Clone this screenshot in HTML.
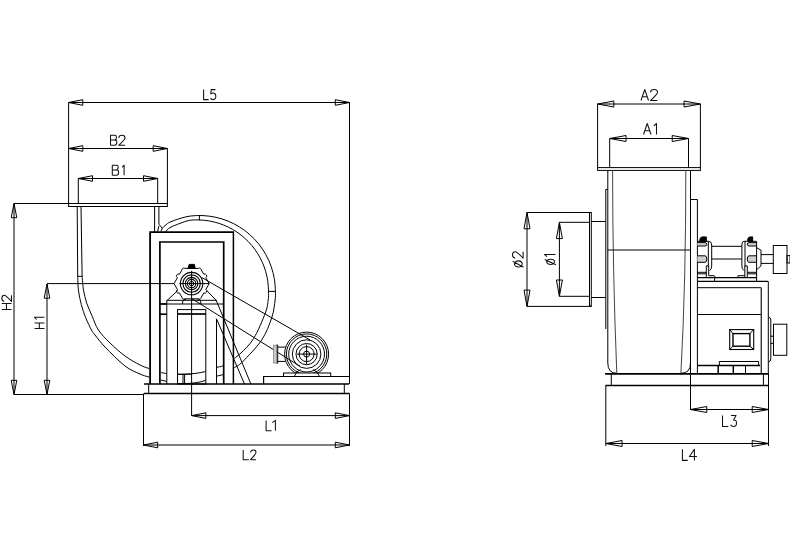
<!DOCTYPE html>
<html><head><meta charset="utf-8"><style>
html,body{margin:0;padding:0;background:#fff;}
svg{display:block;will-change:transform;}
.t{font-family:"Liberation Sans",sans-serif;font-size:16px;fill:#000;text-anchor:middle;stroke:#fff;stroke-width:0.5px;}
</style></head><body>
<svg width="790" height="550" viewBox="0 0 790 550" stroke-linecap="butt">
<rect width="790" height="550" fill="#fff"/>
<line x1="68.6" y1="102.5" x2="349.5" y2="102.5" stroke="#000" stroke-width="1" />
<path d="M68.60,102.50 L82.80,99.70 L82.80,105.30 Z" stroke="#000" stroke-width="1" fill="none" />
<path d="M349.50,102.50 L335.30,105.30 L335.30,99.70 Z" stroke="#000" stroke-width="1" fill="none" />
<line x1="68.6" y1="102.5" x2="68.6" y2="203.5" stroke="#000" stroke-width="1" />
<line x1="349.5" y1="102.5" x2="349.5" y2="384" stroke="#000" stroke-width="1" />
<line x1="349.5" y1="393.5" x2="349.5" y2="446" stroke="#000" stroke-width="1" />
<line x1="68.6" y1="148.5" x2="167.4" y2="148.5" stroke="#000" stroke-width="1" />
<path d="M68.60,148.50 L82.80,145.70 L82.80,151.30 Z" stroke="#000" stroke-width="1" fill="none" />
<path d="M167.40,148.50 L153.20,151.30 L153.20,145.70 Z" stroke="#000" stroke-width="1" fill="none" />
<line x1="167.4" y1="148.5" x2="167.4" y2="203" stroke="#000" stroke-width="1" />
<line x1="78.3" y1="178.5" x2="157.7" y2="178.5" stroke="#000" stroke-width="1" />
<path d="M78.30,178.50 L92.50,175.70 L92.50,181.30 Z" stroke="#000" stroke-width="1" fill="none" />
<path d="M157.70,178.50 L143.50,181.30 L143.50,175.70 Z" stroke="#000" stroke-width="1" fill="none" />
<line x1="78.3" y1="178.5" x2="78.3" y2="203.5" stroke="#000" stroke-width="1" />
<line x1="157.7" y1="178.5" x2="157.7" y2="203" stroke="#000" stroke-width="1" />
<rect x="68.6" y="203.5" width="98.8" height="3.0" stroke="#000" stroke-width="1" fill="none"/>
<line x1="77.2" y1="206" x2="77.7" y2="276" stroke="#000" stroke-width="1" />
<line x1="81" y1="206" x2="82.1" y2="276" stroke="#000" stroke-width="1" />
<line x1="154.6" y1="206" x2="154.6" y2="232" stroke="#000" stroke-width="1" />
<line x1="158.9" y1="206" x2="158.9" y2="224.2" stroke="#000" stroke-width="1" />
<path d="M158.9,224.2 L162.2,228.2 L160.9,231.5 M158.9,226 L157.6,231.5" stroke="#000" stroke-width="1" fill="none" />
<line x1="77.7" y1="276.3" x2="82.1" y2="276.3" stroke="#000" stroke-width="1" />
<line x1="14" y1="203.5" x2="69" y2="203.5" stroke="#000" stroke-width="1" />
<line x1="14" y1="203.5" x2="14" y2="394.5" stroke="#000" stroke-width="1" />
<path d="M14.00,203.50 L16.80,217.70 L11.20,217.70 Z" stroke="#000" stroke-width="1" fill="none" />
<path d="M14.00,394.50 L11.20,380.30 L16.80,380.30 Z" stroke="#000" stroke-width="1" fill="none" />
<line x1="14" y1="394.5" x2="144" y2="394.5" stroke="#000" stroke-width="1" />
<line x1="47" y1="283.6" x2="174" y2="283.6" stroke="#000" stroke-width="1" />
<line x1="179.4" y1="283.6" x2="209.2" y2="283.6" stroke="#000" stroke-width="1" />
<line x1="47" y1="284" x2="47" y2="394.5" stroke="#000" stroke-width="1" />
<path d="M47.00,284.00 L49.80,298.20 L44.20,298.20 Z" stroke="#000" stroke-width="1" fill="none" />
<path d="M47.00,394.50 L44.20,380.30 L49.80,380.30 Z" stroke="#000" stroke-width="1" fill="none" />
<defs><clipPath id="sc"><rect x="0" y="0" width="149.2" height="550"/><rect x="0" y="0" width="790" height="231.5"/><rect x="160.8" y="0" width="5.6" height="550"/><rect x="177.8" y="0" width="27.7" height="550"/><rect x="216.8" y="0" width="6.3" height="550"/><rect x="234.3" y="0" width="556" height="550"/></clipPath></defs>
<g clip-path="url(#sc)">
<path d="M162.20,228.20 C162.83,227.63 164.70,225.82 166.00,224.80 C167.30,223.78 167.67,223.15 170.00,222.10 C172.33,221.05 176.64,219.51 180.00,218.50 C183.36,217.49 186.31,216.55 190.14,216.07 C193.97,215.58 198.72,215.38 202.98,215.58 C207.24,215.79 211.55,216.36 215.72,217.27 C219.89,218.19 224.04,219.48 227.99,221.08 C231.95,222.69 235.82,224.66 239.45,226.91 C243.08,229.16 246.56,231.75 249.76,234.58 C252.96,237.41 255.96,240.55 258.63,243.88 C261.30,247.20 263.73,250.81 265.81,254.54 C267.88,258.27 269.67,262.23 271.08,266.26 C272.50,270.28 273.59,274.49 274.31,278.69 C275.03,282.90 275.27,287.95 275.40,291.50 C275.53,295.05 275.70,295.67 275.10,300.00 C274.50,304.33 274.03,310.83 271.80,317.50 C269.57,324.17 266.58,332.62 261.70,340.00 C256.82,347.38 247.15,357.13 242.50,361.80 C237.85,366.47 236.97,365.92 233.80,368.00 C230.63,370.08 226.40,372.92 223.50,374.30 C220.60,375.68 219.37,375.28 216.40,376.30 C213.43,377.32 209.10,379.33 205.70,380.40 C202.30,381.47 199.45,382.17 196.00,382.70 C192.55,383.23 188.50,383.52 185.00,383.60 C181.50,383.68 178.05,383.57 175.00,383.20 C171.95,382.83 171.03,382.43 166.70,381.40 C162.37,380.37 153.45,378.23 149.00,377.00 C144.55,375.77 144.00,375.83 140.00,374.00 C136.00,372.17 130.83,370.50 125.00,366.00 C119.17,361.50 110.00,352.17 105.00,347.00 C100.00,341.83 97.25,337.83 95.00,335.00 C92.75,332.17 93.05,332.88 91.50,330.00 C89.95,327.12 87.40,321.93 85.70,317.70 C84.00,313.47 82.52,309.22 81.30,304.60 C80.08,299.98 79.00,294.77 78.40,290.00 C77.80,285.23 77.82,278.33 77.70,276.00" stroke="#000" stroke-width="1" fill="none" />
<path d="M165.20,232.00 C166.00,231.27 167.53,229.03 170.00,227.60 C172.47,226.17 176.75,224.62 180.00,223.40 C183.25,222.18 186.28,220.87 189.53,220.29 C192.78,219.72 196.18,219.83 199.50,219.94 C202.81,220.06 206.15,220.41 209.42,220.99 C212.68,221.56 215.94,222.37 219.09,223.40 C222.25,224.42 225.36,225.68 228.34,227.14 C231.32,228.59 234.23,230.27 236.98,232.12 C239.73,233.98 242.38,236.05 244.84,238.27 C247.31,240.48 249.64,242.90 251.77,245.44 C253.90,247.98 255.88,250.70 257.64,253.51 C259.39,256.32 260.97,259.29 262.32,262.32 C263.67,265.35 264.82,268.50 265.73,271.69 C266.64,274.88 267.34,278.16 267.80,281.45 C268.27,284.73 268.43,288.31 268.50,291.40 C268.57,294.49 268.73,296.38 268.20,300.00 C267.67,303.62 267.73,306.68 265.30,313.10 C262.87,319.52 257.88,331.65 253.60,338.50 C249.32,345.35 244.62,349.72 239.60,354.20 C234.58,358.68 227.37,363.20 223.50,365.40 C219.63,367.60 219.37,366.38 216.40,367.40 C213.43,368.42 209.10,370.52 205.70,371.50 C202.30,372.48 199.28,372.85 196.00,373.30 C192.72,373.75 189.08,374.03 186.00,374.20 C182.92,374.37 180.72,374.42 177.50,374.30 C174.28,374.18 169.65,373.85 166.70,373.50 C163.75,373.15 162.75,373.03 159.80,372.20 C156.85,371.37 152.30,369.70 149.00,368.50 C145.70,367.30 144.00,367.08 140.00,365.00 C136.00,362.92 130.00,359.67 125.00,356.00 C120.00,352.33 114.43,347.33 110.00,343.00 C105.57,338.67 101.37,334.47 98.40,330.00 C95.43,325.53 94.15,320.68 92.20,316.20 C90.25,311.72 88.15,307.47 86.70,303.10 C85.25,298.73 84.27,294.52 83.50,290.00 C82.73,285.48 82.33,278.33 82.10,276.00" stroke="#000" stroke-width="1" fill="none" />
</g>
<line x1="199.4" y1="215.5" x2="199.4" y2="220.4" stroke="#000" stroke-width="1" />
<line x1="268.4" y1="291.4" x2="275.4" y2="291.4" stroke="#000" stroke-width="1" />
<path d="M150.1,384 V232.2 H234" stroke="#000" stroke-width="1.8" fill="none" />
<line x1="233.4" y1="232.5" x2="233.4" y2="384" stroke="#000" stroke-width="1.5" />
<path d="M159.9,384 V242 H223.7 V384" stroke="#000" stroke-width="1.7" fill="none" />
<line x1="144" y1="384" x2="349" y2="384" stroke="#000" stroke-width="1.3" />
<line x1="144" y1="393.5" x2="349.5" y2="393.5" stroke="#000" stroke-width="1.4" />
<line x1="148.7" y1="384" x2="148.7" y2="393.5" stroke="#000" stroke-width="1" />
<line x1="344.3" y1="384" x2="344.3" y2="393.5" stroke="#000" stroke-width="1" />
<line x1="166.8" y1="300.3" x2="166.8" y2="384" stroke="#000" stroke-width="1" />
<line x1="216.5" y1="318.8" x2="216.5" y2="384" stroke="#000" stroke-width="1" />
<line x1="166.8" y1="300.3" x2="216.8" y2="300.3" stroke="#000" stroke-width="1" />
<line x1="159.9" y1="304" x2="223.7" y2="304" stroke="#000" stroke-width="1" />
<line x1="159.9" y1="304" x2="166.8" y2="304" stroke="#000" stroke-width="1.6" />
<line x1="159.9" y1="314.2" x2="166.8" y2="314.2" stroke="#000" stroke-width="1.7" />
<rect x="177.5" y="309.6" width="28.3" height="74.4" stroke="#000" stroke-width="1" fill="none"/>
<line x1="177.5" y1="314" x2="205.8" y2="314" stroke="#000" stroke-width="1.7" />
<path d="M177.5,374.2 H191.2" stroke="#000" stroke-width="1" fill="none" />
<line x1="183" y1="374.2" x2="183" y2="384" stroke="#000" stroke-width="1" />
<line x1="184.6" y1="374.2" x2="184.6" y2="384" stroke="#000" stroke-width="1" />
<path d="M182.6,304 V302 Q182.6,299.5 186,299 M200.8,304 V302 Q200.8,299.5 197.5,299" stroke="#000" stroke-width="1" fill="none" />
<line x1="167.2" y1="300.3" x2="178" y2="290.3" stroke="#000" stroke-width="1" />
<line x1="206.5" y1="290.3" x2="216.2" y2="300.3" stroke="#000" stroke-width="1" />
<line x1="216.2" y1="300.3" x2="250.9" y2="384" stroke="#000" stroke-width="1" />
<line x1="216.5" y1="318.8" x2="244.5" y2="384" stroke="#000" stroke-width="1" />
<line x1="191.6" y1="271" x2="191.6" y2="416" stroke="#000" stroke-width="1" />
<line x1="202" y1="277.664" x2="310" y2="339.872" stroke="#000" stroke-width="1" />
<line x1="191.6" y1="298.5" x2="300" y2="366.25" stroke="#000" stroke-width="1" />
<circle cx="191.6" cy="283.6" r="11.2" stroke="#000" stroke-width="1.1" fill="none"/>
<circle cx="191.6" cy="283.6" r="8.7" stroke="#000" stroke-width="1.1" fill="none"/>
<circle cx="191.6" cy="283.6" r="6.2" stroke="#000" stroke-width="1.1" fill="none"/>
<circle cx="191.6" cy="283.6" r="4.2" stroke="#000" stroke-width="1.1" fill="none"/>
<circle cx="191.6" cy="283.6" r="2.2" stroke="#000" stroke-width="1.0" fill="none"/>
<path d="M174.00,283.60 L177.40,277.71 A2.0,2.0 0 0 1 179.40,274.25 L181.80,270.09 A2.0,2.0 0 0 1 184.80,268.36 L198.40,268.36 A2.0,2.0 0 0 1 201.40,270.09 L203.80,274.25 A2.0,2.0 0 0 1 205.80,277.71 L209.20,283.60 L205.80,289.49 A2.0,2.0 0 0 1 203.80,292.95 L201.40,297.11 A2.0,2.0 0 0 1 198.40,298.84 L184.80,298.84 A2.0,2.0 0 0 1 181.80,297.11 L179.40,292.95 A2.0,2.0 0 0 1 177.40,289.49 L174.00,283.60 Z" stroke="#000" stroke-width="1" fill="none" />
<path d="M188.0,268.40000000000003 L189.2,264.40000000000003 H194.4 L195.2,268.40000000000003 Z" stroke="#000" stroke-width="1" fill="#000" />
<circle cx="306.6" cy="354.1" r="22" stroke="#000" stroke-width="1" fill="none"/>
<circle cx="306.6" cy="354.1" r="20.2" stroke="#000" stroke-width="1" fill="none"/>
<circle cx="306.6" cy="354.1" r="17.9" stroke="#000" stroke-width="1" fill="none"/>
<circle cx="306.6" cy="354.1" r="14.3" stroke="#000" stroke-width="1" fill="none"/>
<circle cx="306.6" cy="354.1" r="10.6" stroke="#000" stroke-width="1" fill="none"/>
<circle cx="306.6" cy="354.1" r="7.5" stroke="#000" stroke-width="1" fill="none"/>
<circle cx="306.6" cy="354.1" r="3" stroke="#000" stroke-width="1" fill="none"/>
<line x1="297" y1="354.1" x2="317" y2="354.1" stroke="#000" stroke-width="1" />
<line x1="306.6" y1="344.5" x2="306.6" y2="364" stroke="#000" stroke-width="1" />
<path d="M276.4,345 H277.7 V363.2 H276.4" stroke="#000" stroke-width="1" fill="none" />
<rect x="273.4" y="345.2" width="3" height="17.8" stroke="#888" stroke-width="0.8" fill="#c8c8c8"/>
<path d="M277.7,347.1 H285.5 M277.7,361.4 H285.5" stroke="#000" stroke-width="1" fill="none" />
<path d="M263.6,384 V376.5 H349.5" stroke="#000" stroke-width="1.2" fill="none" />
<rect x="283.5" y="373" width="47.2" height="3.5" stroke="#000" stroke-width="1" fill="#fff"/>
<path d="M294.2,376.5 Q296,371.5 300.5,369.5 M319.6,376.5 Q317.8,371.5 313,369.5" stroke="#000" stroke-width="1" fill="none" />
<line x1="143.5" y1="393.5" x2="143.5" y2="446" stroke="#000" stroke-width="1" />
<line x1="191.7" y1="415.6" x2="349.5" y2="415.6" stroke="#000" stroke-width="1" />
<path d="M191.70,415.60 L205.90,412.80 L205.90,418.40 Z" stroke="#000" stroke-width="1" fill="none" />
<path d="M349.50,415.60 L335.30,418.40 L335.30,412.80 Z" stroke="#000" stroke-width="1" fill="none" />
<line x1="143.5" y1="445" x2="349.5" y2="445" stroke="#000" stroke-width="1" />
<path d="M143.50,445.00 L157.70,442.20 L157.70,447.80 Z" stroke="#000" stroke-width="1" fill="none" />
<path d="M349.50,445.00 L335.30,447.80 L335.30,442.20 Z" stroke="#000" stroke-width="1" fill="none" />
<line x1="597.6" y1="104" x2="700.4" y2="104" stroke="#000" stroke-width="1" />
<path d="M597.60,104.00 L613.90,101.00 L613.90,107.00 Z" stroke="#000" stroke-width="1" fill="none" />
<path d="M700.40,104.00 L684.10,107.00 L684.10,101.00 Z" stroke="#000" stroke-width="1" fill="none" />
<line x1="597.6" y1="104" x2="597.6" y2="167.6" stroke="#000" stroke-width="1" />
<line x1="700.4" y1="104" x2="700.4" y2="167.6" stroke="#000" stroke-width="1" />
<line x1="609.7" y1="138.5" x2="688.5" y2="138.5" stroke="#000" stroke-width="1" />
<path d="M609.70,138.50 L626.00,135.50 L626.00,141.50 Z" stroke="#000" stroke-width="1" fill="none" />
<path d="M688.50,138.50 L672.20,141.50 L672.20,135.50 Z" stroke="#000" stroke-width="1" fill="none" />
<line x1="609.7" y1="138.5" x2="609.7" y2="167.6" stroke="#000" stroke-width="1" />
<line x1="688.5" y1="138.5" x2="688.5" y2="167.6" stroke="#000" stroke-width="1" />
<rect x="597.6" y="167.6" width="102.8" height="2.8" stroke="#000" stroke-width="1" fill="none"/>
<path d="M607.8,170.5 V363 Q607.8,373.3 617,373.3 M681,373.3 Q690.5,373.3 690.5,363" stroke="#000" stroke-width="1" fill="none" />
<line x1="690.5" y1="170.5" x2="690.5" y2="409.5" stroke="#000" stroke-width="1" />
<path d="M612.6,170.5 Q612.6,270 616.8,373.3 M685.8,170.5 Q686,280 680.9,373.3" stroke="#444" stroke-width="1" fill="none" />
<line x1="605.8" y1="189.4" x2="605.8" y2="329" stroke="#000" stroke-width="1" />
<line x1="605.8" y1="189.4" x2="607.8" y2="189.4" stroke="#000" stroke-width="1" />
<line x1="607.6" y1="250" x2="690.5" y2="250" stroke="#000" stroke-width="1" />
<path d="M690.5,199.5 H697.4 V374" stroke="#000" stroke-width="1" fill="none" />
<path d="M527,212.5 H589.5 M527,306.4 H589.5" stroke="#000" stroke-width="1" fill="none" />
<line x1="527" y1="212.5" x2="527" y2="306.4" stroke="#000" stroke-width="1" />
<path d="M527.00,212.50 L530.00,228.80 L524.00,228.80 Z" stroke="#000" stroke-width="1" fill="none" />
<path d="M527.00,306.40 L524.00,290.10 L530.00,290.10 Z" stroke="#000" stroke-width="1" fill="none" />
<rect x="589.5" y="212.5" width="1.8" height="93.9" stroke="#000" stroke-width="1" fill="none"/>
<path d="M559.4,222.3 H589.5 M559.4,296.3 H589.5 M591.3,221.5 H605.8 M591.3,297.5 H605.8" stroke="#000" stroke-width="1" fill="none" />
<line x1="559.4" y1="222.3" x2="559.4" y2="296.3" stroke="#000" stroke-width="1" />
<path d="M559.40,222.30 L562.40,238.60 L556.40,238.60 Z" stroke="#000" stroke-width="1" fill="none" />
<path d="M559.40,296.30 L556.40,280.00 L562.40,280.00 Z" stroke="#000" stroke-width="1" fill="none" />
<path d="M711.7,246.3 H741.9 M711.7,259 H741.9" stroke="#000" stroke-width="1" fill="none" />
<path d="M697.4,241.3 H708.5 Q711.7,241.3 711.7,245 V266 Q711.7,269 709.7,270.5" stroke="#000" stroke-width="1" fill="none" />
<line x1="708.3" y1="241.3" x2="708.3" y2="266.4" stroke="#000" stroke-width="1" />
<path d="M699.9,241.3 V239 Q700.5,236.9 702.5,236.9 H706.3 V241.3 Z" stroke="#000" stroke-width="1" fill="#000" />
<path d="M697.4,242.6 H705 Q706.8,242.6 706.8,244.3 Q706.8,246 705,246 H697.4" stroke="#000" stroke-width="1" fill="#d0d0d0" />
<path d="M697.4,255.8 H705 Q706.8,255.8 706.8,259 Q706.8,262.3 705,262.3 H697.4" stroke="#000" stroke-width="1" fill="#d0d0d0" />
<path d="M706.3,277.7 V265.9 H708.7 V275.7 H714 Q715.1,275.7 715.1,277.7" stroke="#000" stroke-width="1" fill="none" />
<path d="M697.4,272.3 H706.3 M697.4,273.8 H706.3" stroke="#000" stroke-width="1" fill="none" />
<line x1="714.6" y1="277.7" x2="714.6" y2="281.5" stroke="#000" stroke-width="1" />
<path d="M756.6,241.3 H744 Q741.9,241.3 741.9,245 V266 Q741.9,269 743.8,270.5" stroke="#000" stroke-width="1" fill="none" />
<line x1="745" y1="241.3" x2="745" y2="266.4" stroke="#000" stroke-width="1" />
<path d="M747.8,241.3 V239 Q748.3,236.9 750.3,236.9 H752.7 V241.3 Z" stroke="#000" stroke-width="1" fill="#000" />
<path d="M756.6,242.6 H749 Q747.3,242.6 747.3,244.3 Q747.3,246 749,246 H756.6" stroke="#000" stroke-width="1" fill="#d0d0d0" />
<path d="M756.6,255.8 H749 Q747.3,255.8 747.3,259 Q747.3,262.3 749,262.3 H756.6" stroke="#000" stroke-width="1" fill="#d0d0d0" />
<path d="M744.8,277.7 V265.9 H747.3 V277.7" stroke="#000" stroke-width="1" fill="none" />
<path d="M747.3,272.3 H756.6 M747.3,273.8 H756.6" stroke="#000" stroke-width="1" fill="none" />
<path d="M756.6,241.3 V281.5" stroke="#000" stroke-width="1" fill="none" />
<path d="M738,277.7 V275.7 H744.8" stroke="#000" stroke-width="1" fill="none" />
<line x1="697.4" y1="277.7" x2="756.6" y2="277.7" stroke="#000" stroke-width="1.2" />
<path d="M756.6,247.7 L761,250.2 V265.9 L756.6,269.8" stroke="#000" stroke-width="1" fill="none" />
<path d="M761,254.6 H773.3 M761,263.4 H773.3" stroke="#000" stroke-width="1" fill="none" />
<rect x="773.3" y="245.5" width="13.7" height="28" stroke="#000" stroke-width="1" fill="none"/>
<rect x="787" y="255.6" width="3" height="7.4" stroke="#000" stroke-width="1" fill="none"/>
<line x1="697.4" y1="281.3" x2="768.1" y2="281.3" stroke="#000" stroke-width="1.3" />
<path d="M768.3,281.3 V374 M697.3,287.7 H761.3 M697.3,314.5 H761.3" stroke="#000" stroke-width="1" fill="none" />
<line x1="761.3" y1="287.7" x2="761.3" y2="374" stroke="#333" stroke-width="1.4" />
<rect x="729.7" y="329.6" width="24" height="19.9" stroke="#000" stroke-width="1.1" fill="none"/>
<rect x="733" y="333.6" width="16.9" height="12.6" stroke="#000" stroke-width="1.4" fill="none"/>
<path d="M729.7,329.6 L733,333.6 M753.7,329.6 L749.9,333.6 M729.7,349.5 L733,346.2 M753.7,349.5 L749.9,346.2" stroke="#000" stroke-width="1" fill="none" />
<path d="M719.3,365 V361.5 H758.6 V365" stroke="#000" stroke-width="1" fill="none" />
<line x1="697.4" y1="365.6" x2="760" y2="365.6" stroke="#000" stroke-width="1.5" />
<line x1="718.2" y1="365.6" x2="718.2" y2="373.8" stroke="#000" stroke-width="1.5" />
<line x1="733.3" y1="365.6" x2="733.3" y2="373.8" stroke="#000" stroke-width="1.5" />
<line x1="745.5" y1="365.6" x2="745.5" y2="373.8" stroke="#000" stroke-width="1" />
<path d="M768.6,317.1 Q770.8,317.5 770.8,320 V359 Q770.8,361.5 768.6,361.8 M770.8,336.2 H773.5 M770.8,343.3 H773.5" stroke="#000" stroke-width="1" fill="none" />
<rect x="773.5" y="324.2" width="13.3" height="31.1" stroke="#000" stroke-width="1" fill="none"/>
<line x1="605.1" y1="373.8" x2="768.5" y2="373.8" stroke="#000" stroke-width="1.8" />
<line x1="605.5" y1="385.5" x2="768.5" y2="385.5" stroke="#000" stroke-width="1.3" />
<line x1="611.3" y1="373.8" x2="611.3" y2="385.5" stroke="#000" stroke-width="1" />
<line x1="763.4" y1="373.8" x2="763.4" y2="385.5" stroke="#000" stroke-width="1" />
<line x1="605.8" y1="385.5" x2="605.8" y2="446" stroke="#000" stroke-width="1" />
<line x1="768.5" y1="373.8" x2="768.5" y2="446" stroke="#000" stroke-width="1" />
<line x1="690.5" y1="409.5" x2="768.5" y2="409.5" stroke="#000" stroke-width="1" />
<path d="M690.50,409.50 L706.80,406.50 L706.80,412.50 Z" stroke="#000" stroke-width="1" fill="none" />
<path d="M768.50,409.50 L752.20,412.50 L752.20,406.50 Z" stroke="#000" stroke-width="1" fill="none" />
<line x1="605.8" y1="443.5" x2="768.5" y2="443.5" stroke="#000" stroke-width="1" />
<path d="M605.80,443.50 L622.10,440.50 L622.10,446.50 Z" stroke="#000" stroke-width="1" fill="none" />
<path d="M768.50,443.50 L752.20,446.50 L752.20,440.50 Z" stroke="#000" stroke-width="1" fill="none" />
<path d="M0,0 V1 H0.500" transform="translate(203.6 99.6) rotate(0) translate(0 -10) scale(10)" vector-effect="non-scaling-stroke" stroke="#111" stroke-width="1.05" fill="none" stroke-linejoin="round"/>
<path d="M0.484,0 H0.06 L0.02,0.42 C0.12,0.36 0.2,0.34 0.260,0.34 C0.416,0.34 0.520,0.48 0.520,0.67 C0.520,0.88 0.416,1 0.260,1 C0.14,1 0.04,0.93 0,0.84" transform="translate(210.6 99.6) rotate(0) translate(0 -10) scale(10)" vector-effect="non-scaling-stroke" stroke="#111" stroke-width="1.05" fill="none" stroke-linejoin="round"/>
<path d="M0,1 V0 H0.391 C0.586,0 0.586,0.06 0.586,0.24 C0.586,0.4 0.504,0.47 0.391,0.47 H0 M0.391,0.47 C0.630,0.47 0.630,0.56 0.630,0.73 C0.630,0.92 0.504,1 0.391,1 H0" transform="translate(110.5 145.3) rotate(0) translate(0 -10) scale(10)" vector-effect="non-scaling-stroke" stroke="#111" stroke-width="1.05" fill="none" stroke-linejoin="round"/>
<path d="M0,0.26 C0.02,0.08 0.14,0 0.315,0 C0.586,0 0.630,0.1 0.630,0.27 C0.630,0.42 0.504,0.52 0,1 H0.630" transform="translate(118.7 145.3) rotate(0) translate(0 -10) scale(10)" vector-effect="non-scaling-stroke" stroke="#111" stroke-width="1.05" fill="none" stroke-linejoin="round"/>
<path d="M0,1 V0 H0.391 C0.586,0 0.586,0.06 0.586,0.24 C0.586,0.4 0.504,0.47 0.391,0.47 H0 M0.391,0.47 C0.630,0.47 0.630,0.56 0.630,0.73 C0.630,0.92 0.504,1 0.391,1 H0" transform="translate(112.3 175.2) rotate(0) translate(0 -10) scale(10)" vector-effect="non-scaling-stroke" stroke="#111" stroke-width="1.05" fill="none" stroke-linejoin="round"/>
<path d="M0,0.22 L0.180,0 V1" transform="translate(122.3 175.2) rotate(0) translate(0 -10) scale(10)" vector-effect="non-scaling-stroke" stroke="#111" stroke-width="1.05" fill="none" stroke-linejoin="round"/>
<path d="M0,1 L0.341,0 L0.682,1 M0.123,0.66 H0.559" transform="translate(641 100.5) rotate(0) translate(0 -11) scale(11)" vector-effect="non-scaling-stroke" stroke="#111" stroke-width="1.05" fill="none" stroke-linejoin="round"/>
<path d="M0,0.26 C0.02,0.08 0.14,0 0.318,0 C0.592,0 0.636,0.1 0.636,0.27 C0.636,0.42 0.509,0.52 0,1 H0.636" transform="translate(650.5 100.5) rotate(0) translate(0 -11) scale(11)" vector-effect="non-scaling-stroke" stroke="#111" stroke-width="1.05" fill="none" stroke-linejoin="round"/>
<path d="M0,1 L0.341,0 L0.682,1 M0.123,0.66 H0.559" transform="translate(643.5 134.5) rotate(0) translate(0 -11) scale(11)" vector-effect="non-scaling-stroke" stroke="#111" stroke-width="1.05" fill="none" stroke-linejoin="round"/>
<path d="M0,0.22 L0.245,0 V1" transform="translate(653.8 134.5) rotate(0) translate(0 -11) scale(11)" vector-effect="non-scaling-stroke" stroke="#111" stroke-width="1.05" fill="none" stroke-linejoin="round"/>
<path d="M0,0 V1 H0.534" transform="translate(266.1 430.7) rotate(0) translate(0 -10.3) scale(10.3)" vector-effect="non-scaling-stroke" stroke="#111" stroke-width="1.05" fill="none" stroke-linejoin="round"/>
<path d="M0,0.22 L0.301,0 V1" transform="translate(272.3 430.7) rotate(0) translate(0 -10.3) scale(10.3)" vector-effect="non-scaling-stroke" stroke="#111" stroke-width="1.05" fill="none" stroke-linejoin="round"/>
<path d="M0,0 V1 H0.588" transform="translate(243.2 459.7) rotate(0) translate(0 -9.7) scale(9.7)" vector-effect="non-scaling-stroke" stroke="#111" stroke-width="1.05" fill="none" stroke-linejoin="round"/>
<path d="M0,0.26 C0.02,0.08 0.14,0 0.278,0 C0.518,0 0.557,0.1 0.557,0.27 C0.557,0.42 0.445,0.52 0,1 H0.557" transform="translate(250.6 459.7) rotate(0) translate(0 -9.7) scale(9.7)" vector-effect="non-scaling-stroke" stroke="#111" stroke-width="1.05" fill="none" stroke-linejoin="round"/>
<path d="M0,0 V1 H0.536" transform="translate(722.5 426.5) rotate(0) translate(0 -11) scale(11)" vector-effect="non-scaling-stroke" stroke="#111" stroke-width="1.05" fill="none" stroke-linejoin="round"/>
<path d="M0.04,0 H0.507 L0.273,0.4 C0.507,0.4 0.545,0.52 0.545,0.7 C0.545,0.9 0.436,1 0.273,1 C0.16,1 0.05,0.94 0,0.84" transform="translate(730.5 426.5) rotate(0) translate(0 -11) scale(11)" vector-effect="non-scaling-stroke" stroke="#111" stroke-width="1.05" fill="none" stroke-linejoin="round"/>
<path d="M0,0 V1 H0.482" transform="translate(682.4 460.4) rotate(0) translate(0 -11.2) scale(11.2)" vector-effect="non-scaling-stroke" stroke="#111" stroke-width="1.05" fill="none" stroke-linejoin="round"/>
<path d="M0.446,1 V0 L0,0.65 H0.679" transform="translate(689.4 460.4) rotate(0) translate(0 -11.2) scale(11.2)" vector-effect="non-scaling-stroke" stroke="#111" stroke-width="1.05" fill="none" stroke-linejoin="round"/>
<path d="M0,0 V1 M0.619,0 V1 M0,0.48 H0.619" transform="translate(11.5 309.5) rotate(-90) translate(0 -9.7) scale(9.7)" vector-effect="non-scaling-stroke" stroke="#111" stroke-width="1.05" fill="none" stroke-linejoin="round"/>
<path d="M0,0.26 C0.02,0.08 0.14,0 0.325,0 C0.604,0 0.649,0.1 0.649,0.27 C0.649,0.42 0.520,0.52 0,1 H0.649" transform="translate(11.5 301.5) rotate(-90) translate(0 -9.7) scale(9.7)" vector-effect="non-scaling-stroke" stroke="#111" stroke-width="1.05" fill="none" stroke-linejoin="round"/>
<path d="M0,0 V1 M0.550,0 V1 M0,0.48 H0.550" transform="translate(44.5 328.5) rotate(-90) translate(0 -10) scale(10)" vector-effect="non-scaling-stroke" stroke="#111" stroke-width="1.05" fill="none" stroke-linejoin="round"/>
<path d="M0,0.22 L0.220,0 V1" transform="translate(44.5 319.5) rotate(-90) translate(0 -10) scale(10)" vector-effect="non-scaling-stroke" stroke="#111" stroke-width="1.05" fill="none" stroke-linejoin="round"/>
<path d="M0.307,0.190 C0.466,0.190 0.595,0.351 0.595,0.550 C0.595,0.749 0.466,0.910 0.307,0.910 C0.147,0.910 0.018,0.749 0.018,0.550 C0.018,0.351 0.147,0.190 0.307,0.190 Z M0.564,0.02 L-0.012,1.04" transform="translate(523.1 267.2) rotate(-90) translate(0 -10.6) scale(10.6)" vector-effect="non-scaling-stroke" stroke="#111" stroke-width="1.05" fill="none" stroke-linejoin="round"/>
<path d="M0,0.26 C0.02,0.08 0.14,0 0.297,0 C0.553,0 0.594,0.1 0.594,0.27 C0.594,0.42 0.475,0.52 0,1 H0.594" transform="translate(523.1 258.1) rotate(-90) translate(0 -10.6) scale(10.6)" vector-effect="non-scaling-stroke" stroke="#111" stroke-width="1.05" fill="none" stroke-linejoin="round"/>
<path d="M0.250,0.190 C0.380,0.190 0.485,0.351 0.485,0.550 C0.485,0.749 0.380,0.910 0.250,0.910 C0.120,0.910 0.015,0.749 0.015,0.550 C0.015,0.351 0.120,0.190 0.250,0.190 Z M0.460,0.02 L-0.010,1.04" transform="translate(555.5 264.6) rotate(-90) translate(0 -11) scale(11)" vector-effect="non-scaling-stroke" stroke="#111" stroke-width="1.05" fill="none" stroke-linejoin="round"/>
<path d="M0,0.22 L0.209,0 V1" transform="translate(555.5 256.7) rotate(-90) translate(0 -11) scale(11)" vector-effect="non-scaling-stroke" stroke="#111" stroke-width="1.05" fill="none" stroke-linejoin="round"/>
</svg></body></html>
